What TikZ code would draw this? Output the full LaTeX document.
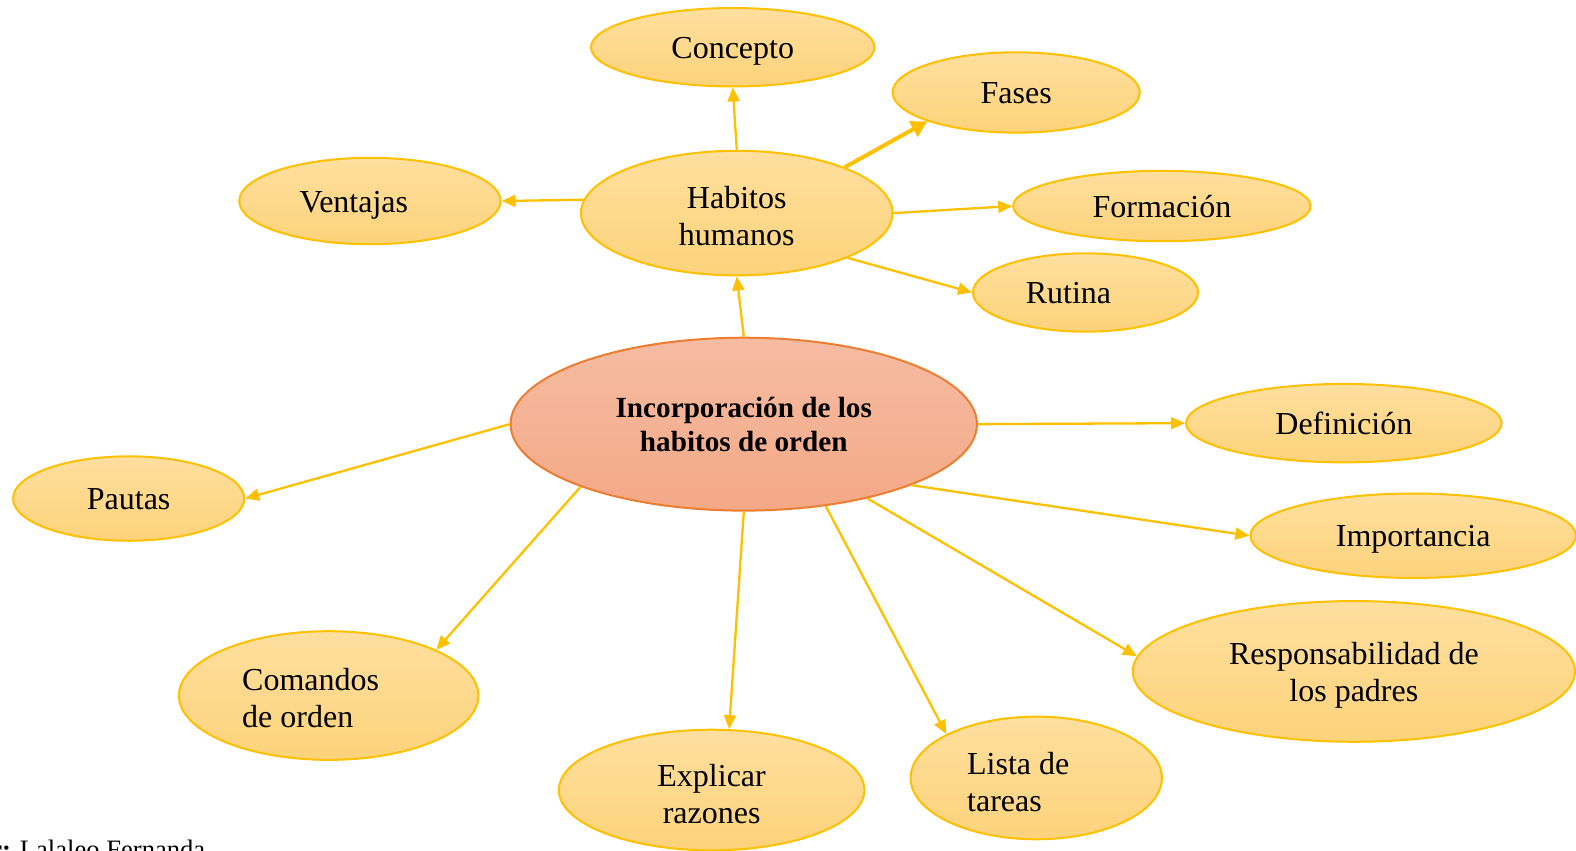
\documentclass[tikz,border=0pt]{standalone}
\usepackage{fontspec}
\setmainfont{Liberation Serif}
\usepackage{tikz}
\usetikzlibrary{shapes.geometric, arrows.meta}
\usepackage{xcolor}
\definecolor{oro}{HTML}{FFC000}
\definecolor{amarilloA}{HTML}{FEDF9E}
\definecolor{amarilloB}{HTML}{FDD37B}
\definecolor{naranja}{HTML}{ED7D31}
\definecolor{salmonA}{HTML}{F5BCA3}
\definecolor{salmonB}{HTML}{F4A886}
\newcommand{\esc}{0.50255}
\newcommand{\alto}[1]{\rule{0pt}{#1}}

\begin{document}
\begin{tikzpicture}[x = \esc pt, y = -\esc pt,
    burbuja/.style 2 args = {ellipse, draw = oro, line width = 1pt, top color = amarilloA, bottom color = amarilloB, inner sep = 0pt, minimum width = 2*#1*\esc pt, minimum height = 2*#2*\esc pt, font = \fontsize{16}{18.6}\selectfont, align = center},
    simple/.style = {text height = 14.5pt, text depth = 3.5pt},
    flecha/.style = {draw = oro, line width = 1.15pt, -{Triangle[length = 7pt, width = 6pt]}}]
    % Marco
    \useasboundingbox (0,0) rectangle (1568,846);
    % Nodo central
    \node[ellipse, draw = naranja, line width = 1pt, top color = salmonA, bottom color = salmonB, inner sep = 0pt, minimum width = 464*\esc pt, minimum height = 172*\esc pt, align = center, font = \fontsize{14.6}{17}\selectfont\bfseries] (central) at (740,422) {Incorporación de los\\habitos de orden};
    % Habitos humanos y sus ramas
    \node[burbuja = {155}{62}] (habitos) at (733,212) {\alto{14pt}Habitos\\humanos};
    \node[burbuja = {141}{39}, simple] (concepto) at (729,47) {Concepto};
    \node[burbuja = {123}{40}, simple] (fases) at (1011,92) {Fases};
    \node[burbuja = {130}{43}, simple] (ventajas) at (368,200) {Ventajas\hspace{16pt}};
    \node[burbuja = {148}{35}, simple] (formacion) at (1156,205) {Formación};
    \node[burbuja = {112}{39}, simple] (rutina) at (1080,291) {Rutina\hspace{17pt}};
    % Ramas del nodo central
    \node[burbuja = {157}{39}, simple] (definicion) at (1337,421) {Definición};
    \node[burbuja = {115}{42}, simple] (pautas) at (128,496) {Pautas};
    \node[burbuja = {162}{42}, simple] (importancia) at (1406,533) {Importancia};
    \node[burbuja = {220}{70}] (padres) at (1347,668) {\alto{15pt}Responsabilidad de\\los padres};
    \node[burbuja = {149}{64}, inner sep = -3pt] (comandos) at (327,692) {\begin{tabular}{@{}l@{\hspace{18pt}}}\alto{19pt}Comandos\\de orden\end{tabular}};
    \node[burbuja = {152}{60}] (razones) at (708,786) {\alto{15pt}Explicar\\razones};
    \node[burbuja = {125}{61}, inner sep = -3pt] (tareas) at (1031,774) {\begin{tabular}{@{}l@{\hspace{18pt}}}\alto{21pt}Lista de\\tareas\end{tabular}};
    % Fuente
    \node[anchor = base west, inner sep = 0pt, font = \fontsize{13.3}{16}\selectfont] (autor) at (-10,854) {\textbf{r:} Lalaleo Fernanda};
    % Flechas
    \draw[flecha] (habitos.north) -- (concepto.south);
    \draw[flecha, line width = 2pt, -{Triangle[length = 8pt, width = 8.5pt]}] (habitos.23) -- (fases.198);
    \draw[flecha] (habitos.175.5) -- (ventajas.east);
    \draw[flecha] (habitos.east) -- (formacion.west);
    \draw[flecha] (habitos.-22) -- (rutina.west);
    \draw[flecha] (central.north) -- (habitos.south);
    \draw[flecha] (central.east) -- (definicion.west);
    \draw[flecha] (central.west) -- (pautas.east);
    \draw[flecha] (central.-20.6) -- (importancia.west);
    \draw[flecha] (central.-31.6) -- (padres.176);
    \draw[flecha] (central.201) -- (comandos.23);
    \draw[flecha] (central.south) -- (razones.74);
    \draw[flecha] (central.-45) -- (tareas.154);
\end{tikzpicture}
\end{document}
